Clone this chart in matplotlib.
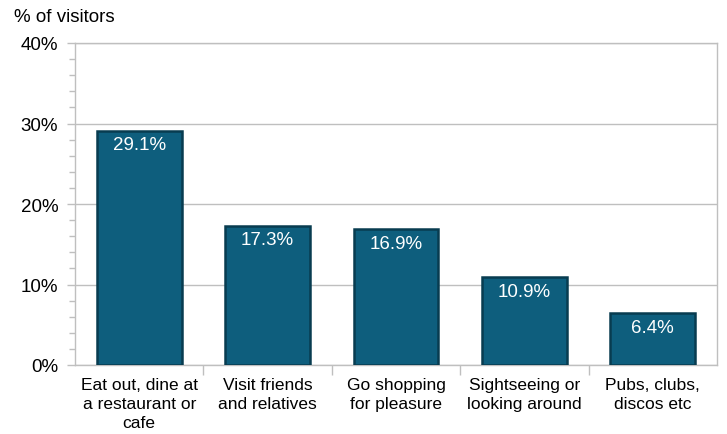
import matplotlib.pyplot as plt
from matplotlib.ticker import MultipleLocator, PercentFormatter

plt.rcParams['font.family'] = ['Liberation Sans', 'DejaVu Sans']

# data
categories = ['Eat out, dine at\na restaurant or\ncafe', 'Visit friends\nand relatives',
              'Go shopping\nfor pleasure', 'Sightseeing or\nlooking around',
              'Pubs, clubs,\ndiscos etc']
values = [29.1, 17.3, 16.9, 10.9, 6.4]

bar_color = '#0E5E7D'
edge_color = '#083C50'
grid_color = '#BFBFBF'

fig = plt.figure(figsize=(7.27, 4.35), dpi=100)
ax = fig.add_axes([75 / 727, 1 - 366 / 435, 642 / 727, 322 / 435])

x = range(len(categories))
bars = ax.bar(x, values, width=0.66, color=bar_color, edgecolor=edge_color,
              linewidth=1.8, zorder=3)

for b, v in zip(bars, values):
    ax.annotate(f'{v:.1f}%', (b.get_x() + b.get_width() / 2, v),
                xytext=(0, -4), textcoords='offset points',
                ha='center', va='top', color='white', fontsize=13.5, zorder=4)

ax.set_xlim(-0.5, len(categories) - 0.5)
ax.set_ylim(0, 40)
ax.yaxis.set_major_locator(MultipleLocator(10))
ax.yaxis.set_minor_locator(MultipleLocator(2))
ax.yaxis.set_major_formatter(PercentFormatter(decimals=0))
ax.grid(axis='y', color=grid_color, linewidth=1, zorder=0)

ax.set_xticks([i + 0.5 for i in range(len(categories) - 1)], minor=True)
ax.set_xticks(list(x))
ax.set_xticklabels(categories, fontsize=12.5, linespacing=1.3)
ax.tick_params(axis='x', which='major', length=0, pad=9)
ax.tick_params(axis='x', which='minor', length=7, color=grid_color, width=1)
ax.tick_params(axis='y', which='major', length=6, color=grid_color, width=1,
               labelsize=13.5, pad=6)
ax.tick_params(axis='y', which='minor', length=4, color=grid_color, width=1)

for s in ax.spines.values():
    s.set_color(grid_color)
    s.set_linewidth(1)

fig.text(14 / 727, 1 - 18 / 435, '% of visitors', fontsize=13.5, va='center', ha='left')

fig.savefig('out.png', dpi=100)
